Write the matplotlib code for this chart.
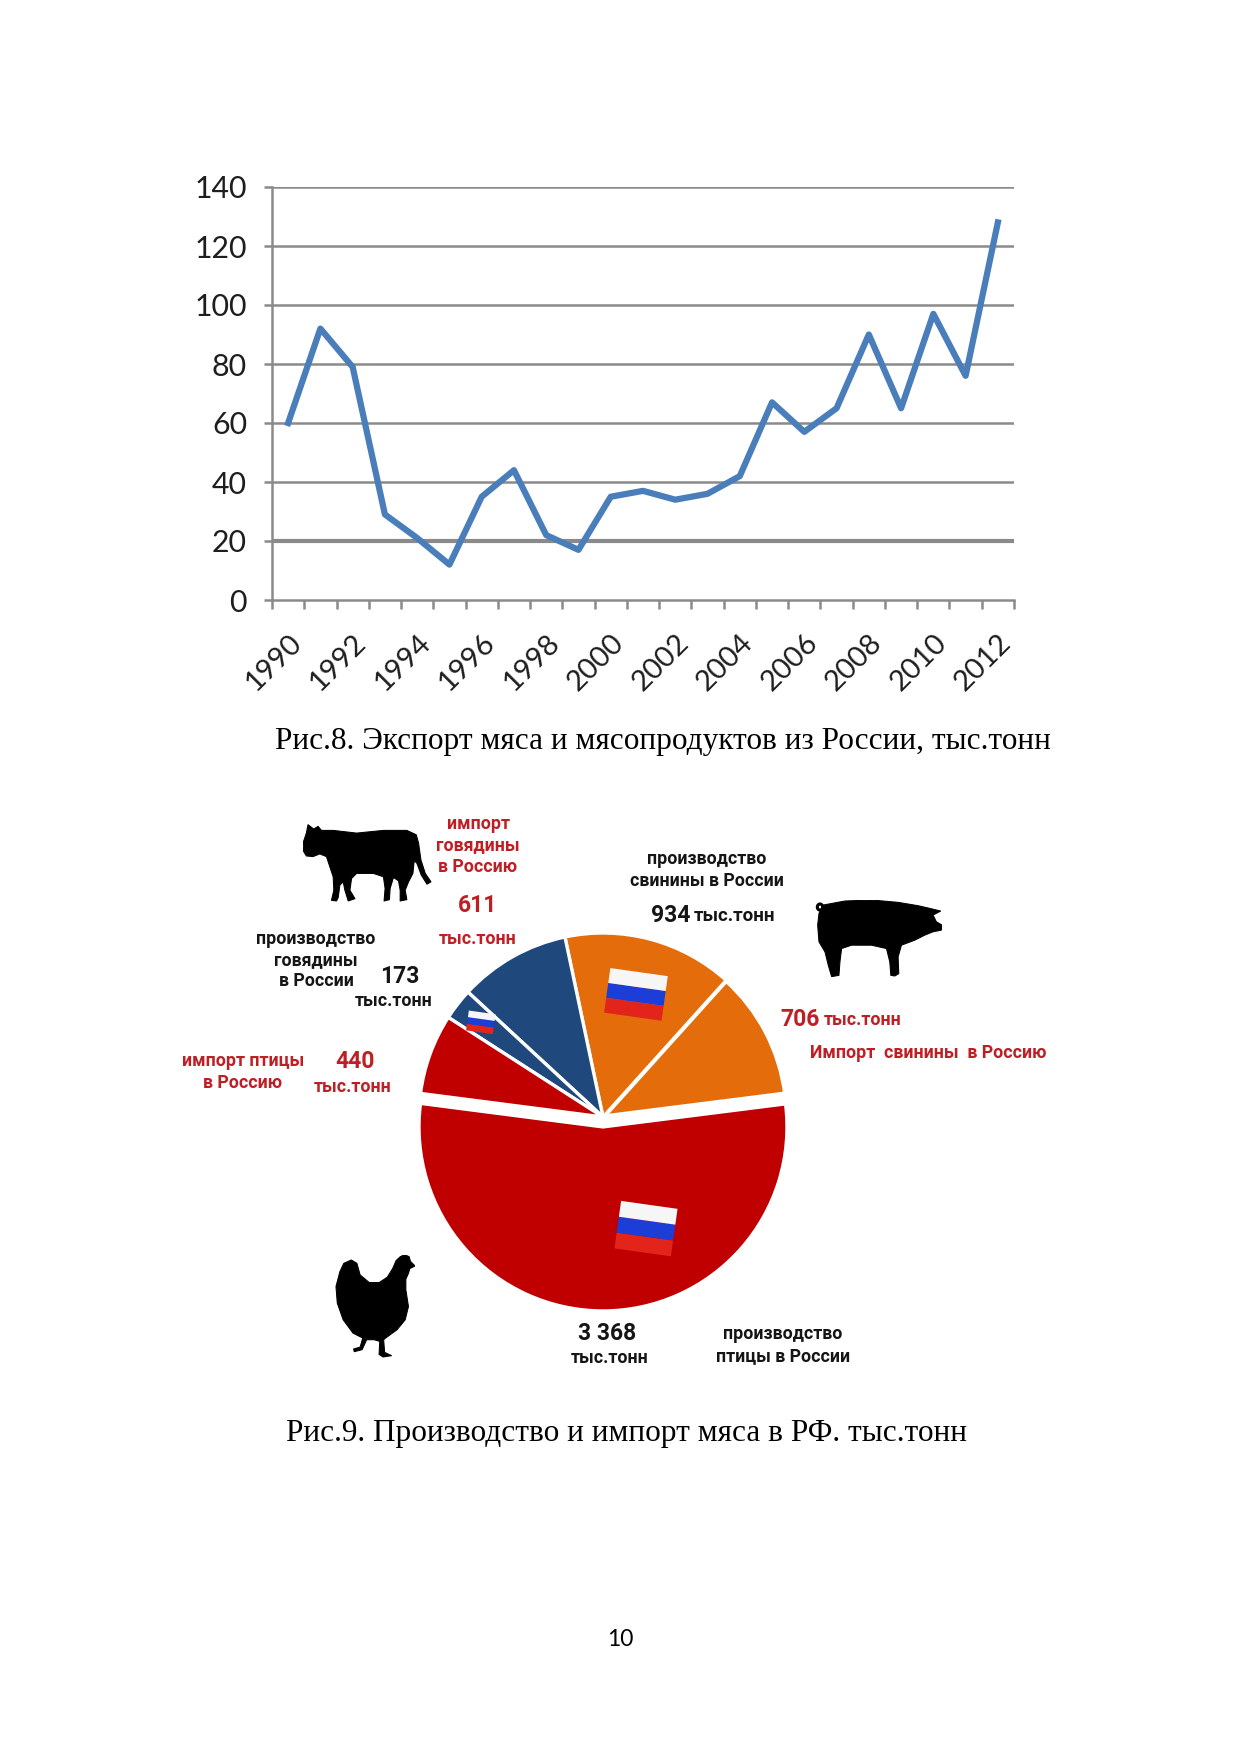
import numpy as np
import matplotlib
matplotlib.use("Agg")
import matplotlib.pyplot as plt
from matplotlib.patches import Polygon
import matplotlib.transforms as mtransforms

# --- data -------------------------------------------------------------
years = list(range(1990, 2013))
export_kt = [60, 92, 79, 29, 21, 12, 35, 44, 22, 17, 35, 37, 34, 36, 42,
             67, 57, 65, 90, 65, 97, 76, 128]
y_ticks = [0, 20, 40, 60, 80, 100, 120, 140]

# pie slices, counterclockwise from the right
slice_names = ["import pork", "prod pork", "import beef", "prod beef",
               "import poultry", "prod poultry"]
slice_values = [706, 934, 611, 173, 440, 3368]

caption8 = "Рис.8. Экспорт мяса и мясопродуктов из России, тыс.тонн"
caption9 = "Рис.9. Производство и импорт мяса в РФ. тыс.тонн"

W, H, DPI = 1241, 1754, 150
plt.rcParams["font.family"] = ["Roboto", "DejaVu Sans"]
fig = plt.figure(figsize=(W / DPI, H / DPI), dpi=DPI)

def px_axes(x0, y0, x1, y1):
    return fig.add_axes([x0 / W, 1 - y1 / H, (x1 - x0) / W, (y1 - y0) / H])

GRAY = "#8A8A8A"
RED_T = "#BF1E24"
BLACK_T = "#151515"

# --- line chart -------------------------------------------------------
ax = px_axes(272, 187, 1014, 600)
x = np.arange(len(years))
for v in y_ticks[1:]:
    ax.axhline(v, color=GRAY, lw=2.0 if v == 20 else 1.2, zorder=0)
ax.plot(x, export_kt, color="#4A7EBB", lw=3.0, solid_joinstyle="round", zorder=3)
ax.set_xlim(-0.5, len(years) - 0.5)
ax.set_ylim(0, 140)
ax.set_yticks(y_ticks)
ax.set_xticks(x[::2])
ax.set_xticklabels([str(y) for y in years[::2]], rotation=45, ha="right",
                   va="top", rotation_mode="anchor")
ax.set_xticks(np.arange(-0.5, len(years)), minor=True)
for s in ["top", "right"]:
    ax.spines[s].set_visible(False)
for s in ["left", "bottom"]:
    ax.spines[s].set_color(GRAY)
    ax.spines[s].set_linewidth(1.2)
ax.tick_params(axis="y", length=4, color=GRAY, width=1.2, labelsize=14.5,
               pad=8, labelcolor="#1E1E1E")
ax.tick_params(axis="x", which="major", length=0, labelsize=14, pad=14,
               labelcolor="#1E1E1E")
ax.tick_params(axis="x", which="minor", length=4.5, color=GRAY, width=1.2)
for lbl in ax.get_xticklabels() + ax.get_yticklabels():
    lbl.set_fontfamily(["Lato", "DejaVu Sans"])

fig.text(663 / W, 1 - 742 / H, caption8, family=["Liberation Serif"],
         size=15, ha="center", va="center")

# --- pie chart --------------------------------------------------------
R_PX = 184
pa = px_axes(603 - 240, 1117 - 240, 603 + 240, 1117 + 240)
L = 240 / R_PX
colors = ["#E46C0A", "#E46C0A", "#1F497D", "#1F497D", "#C00000", "#C00000"]
wedges, _ = pa.pie(slice_values, colors=colors, startangle=7.2, counterclock=True,
                   explode=[0, 0, 0, 0, 0, 0.054],
                   wedgeprops=dict(edgecolor="white", linewidth=1.6))
wedges[0].set_linewidth(2.4)
pa.set_xlim(-L, L)
pa.set_ylim(-L, L)
pa.set_aspect("equal")
pa.axis("off")


def draw_flag(axx, cx, cy, w, h, angle):
    tr = mtransforms.Affine2D().rotate_deg_around(cx, cy, angle) + axx.transData
    for k, c in enumerate(["#E3241B", "#1C3ED6", "#F6F6F6"]):
        y0 = cy - h / 2 + k * h / 3
        pts = [(cx - w / 2, y0), (cx + w / 2, y0), (cx + w / 2, y0 + h / 3),
               (cx - w / 2, y0 + h / 3)]
        axx.add_patch(Polygon(pts, closed=True, facecolor=c, edgecolor="none",
                              transform=tr, zorder=5))


# (wedge, radius fraction, angle offset from mid-angle, width px, height px)
for idx, rfrac, dth, wpx, hpx in [(1, 0.69, 0, 58, 45), (3, 0.84, 0, 27, 20),
                                  (5, 0.60, 23, 57, 48)]:
    wd = wedges[idx]
    th = np.deg2rad((wd.theta1 + wd.theta2) / 2 + dth)
    cx = wd.center[0] + rfrac * np.cos(th)
    cy = wd.center[1] + rfrac * np.sin(th)
    draw_flag(pa, cx, cy, wpx / R_PX, hpx / R_PX, -8)

# --- silhouettes ------------------------------------------------------
cow = [(42, 125), (40, 100), (50, 70), (55, 45), (72, 58), (85, 50), (95, 62),
       (130, 62), (200, 70), (280, 62), (350, 62), (378, 75), (385, 100),
       (392, 150), (405, 190), (422, 215), (410, 222), (393, 195), (380, 160),
       (372, 152), (368, 190), (355, 215), (345, 240), (350, 268), (330, 272),
       (330, 240), (325, 212), (310, 202), (300, 235), (298, 268), (282, 272),
       (285, 235), (280, 200), (250, 190), (200, 190), (185, 205), (180, 240),
       (195, 265), (175, 272), (165, 240), (160, 215), (150, 225), (145, 262),
       (140, 272), (125, 270), (132, 240), (130, 200), (120, 170), (110, 140),
       (90, 132), (70, 140), (50, 138)]
pig = [(55, 60), (120, 48), (200, 45), (280, 52), (340, 62), (375, 70),
       (408, 78), (385, 90), (395, 110), (412, 120), (410, 135), (385, 140),
       (360, 150), (330, 165), (290, 180), (280, 215), (282, 265), (270, 272),
       (258, 270), (255, 230), (245, 190), (200, 180), (140, 180), (110, 190),
       (105, 230), (102, 270), (80, 274), (70, 240), (60, 200), (42, 170),
       (38, 120), (42, 85)]
hen = [(60, 95), (72, 70), (95, 60), (112, 70), (122, 105), (150, 128),
       (180, 128), (205, 112), (222, 85), (232, 62), (245, 50), (258, 44),
       (272, 50), (276, 64), (290, 78), (274, 86), (270, 100), (262, 118),
       (262, 150), (270, 200), (260, 240), (235, 270), (200, 295), (194, 300),
       (197, 338), (218, 348), (192, 352), (180, 344), (182, 305), (165, 300),
       (142, 300), (128, 330), (104, 336), (102, 328), (122, 322), (130, 295),
       (100, 280), (70, 240), (52, 190), (48, 140)]


def silhouette(box, outline, ext):
    a = px_axes(*box)
    a.add_patch(Polygon(outline, closed=True, facecolor="black", edgecolor="black",
                        lw=0.5, joinstyle="round"))
    a.set_xlim(ext[0], ext[1])
    a.set_ylim(ext[3], ext[2])
    a.axis("off")
    return a


silhouette((303, 823, 432, 902), cow, (40, 425, 40, 275))
pig_ax = silhouette((815, 900, 942, 977), pig, (30, 412, 45, 275))
t = np.linspace(0, 2 * np.pi, 40)
pig_ax.plot(45 + 8 * np.cos(t), 66 + 9 * np.sin(t), color="black", lw=1.5)
silhouette((335, 1255, 415, 1358), hen, (45, 290, 45, 355))

# --- pie labels -------------------------------------------------------
def lab(xp, yp, s, color, size=8.5, ha="center"):
    fig.text(xp / W, 1 - yp / H, s, color=color, size=size, ha=ha, va="center",
             weight="bold", family=["Roboto", "DejaVu Sans"], linespacing=1.25)


lab(478, 845, "импорт\nговядины\nв Россию", RED_T)
lab(478, 905, "611", RED_T, size=11)
lab(478, 939, "тыс.тонн", RED_T)
lab(707, 870, "производство\nсвинины в России", BLACK_T)
lab(690, 916, "934", BLACK_T, size=11, ha="right")
lab(694, 916, "тыс.тонн", BLACK_T, size=9, ha="left")
lab(316, 960, "производство\nговядины\nв России", BLACK_T)
lab(400, 977, "173", BLACK_T, size=11)
lab(394, 1001, "тыс.тонн", BLACK_T)
lab(780, 1020, "706", RED_T, size=11, ha="left")
lab(824, 1020, "тыс.тонн", RED_T, ha="left")
lab(810, 1053, "Импорт  свинины  в Россию", RED_T, ha="left")
lab(243, 1072, "импорт птицы\nв Россию", RED_T)
lab(355, 1062, "440", RED_T, size=11)
lab(353, 1087, "тыс.тонн", RED_T)
lab(607, 1333, "3 368", BLACK_T, size=11)
lab(610, 1358, "тыс.тонн", BLACK_T)
lab(783, 1345, "производство\nптицы в России", BLACK_T)

fig.text(626 / W, 1 - 1434 / H, caption9, family=["Liberation Serif"],
         size=15, ha="center", va="center")
fig.text(620 / W, 1 - 1640 / H, "10", family=["Lato", "DejaVu Sans"], size=11,
         ha="center", va="center")

fig.savefig("out.png", dpi=DPI)
